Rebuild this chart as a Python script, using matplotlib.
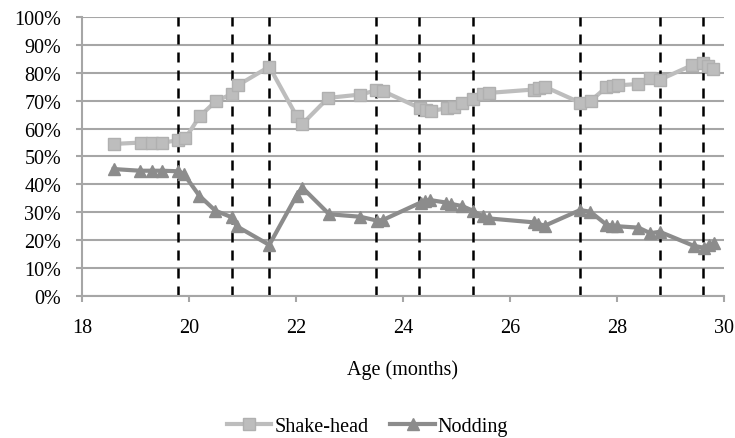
import matplotlib.pyplot as plt
from matplotlib.ticker import PercentFormatter

plt.rcParams['font.family'] = ['Liberation Serif', 'DejaVu Serif']

# shake-head responses
shake_age = [18.6, 19.1, 19.3, 19.5, 19.8, 19.93, 20.2, 20.5, 20.81, 20.91, 21.5,
             22.01, 22.12, 22.6, 23.2, 23.5, 23.63, 24.32, 24.43, 24.52, 24.82,
             24.95, 25.1, 25.3, 25.49, 25.61, 26.44, 26.55, 26.65, 27.31, 27.51,
             27.8, 27.92, 28.02, 28.4, 28.62, 28.8, 29.4, 29.6, 29.7, 29.8]
shake_pct = [54.5, 55.0, 55.0, 55.0, 55.8, 56.5, 64.4, 69.8, 72.5, 75.5, 82.2,
             64.5, 61.7, 71.0, 72.2, 73.7, 73.4, 67.3, 66.5, 66.3, 67.3,
             67.8, 69.2, 70.6, 72.5, 72.8, 74.0, 74.6, 75.0, 69.3, 70.0,
             74.8, 75.2, 75.5, 76.0, 78.2, 77.5, 82.7, 83.6, 82.5, 81.2]

# nodding responses
nod_age = [18.59, 19.08, 19.3, 19.5, 19.8, 19.9, 20.19, 20.49, 20.8, 20.89, 21.5,
           22.01, 22.12, 22.62, 23.2, 23.52, 23.63, 24.33, 24.41, 24.5, 24.8,
           24.9, 25.11, 25.3, 25.49, 25.6, 26.44, 26.53, 26.65, 27.31, 27.5,
           27.8, 27.9, 28.0, 28.4, 28.62, 28.8, 29.43, 29.62, 29.71, 29.81]
nod_pct = [45.5, 44.9, 44.9, 44.9, 44.7, 43.8, 36.0, 30.6, 28.2, 25.0, 18.3,
           36.0, 38.8, 29.3, 28.4, 27.0, 27.3, 33.5, 34.2, 34.4, 33.5,
           33.0, 32.2, 30.6, 28.5, 27.8, 26.4, 25.8, 25.2, 30.8, 30.2,
           25.6, 25.2, 25.0, 24.5, 22.5, 23.0, 18.0, 17.3, 18.3, 19.0]

# dashed reference ages
marks = [19.8, 20.8, 21.5, 23.5, 24.3, 25.3, 27.3, 28.8, 29.6]

fig = plt.figure(figsize=(7.35, 4.39), dpi=100)
ax = fig.add_axes([0.1116, 0.3235, 0.8735, 0.6355])

for m in marks:
    ax.axvline(m, color='black', lw=1.8, ls=(0, (4, 3.2)), zorder=2)

ax.plot(shake_age, shake_pct, color='#bdbdbd', lw=3, marker='s', ms=8,
        markerfacecolor='#bdbdbd', markeredgecolor='#b0b0b0', label='Shake-head', zorder=3)
ax.plot(nod_age, nod_pct, color='#8c8c8c', lw=3, marker='^', ms=8,
        markerfacecolor='#8c8c8c', markeredgecolor='#8c8c8c', label='Nodding', zorder=3)

ax.set_xlim(18, 30)
ax.set_ylim(0, 100)
ax.set_xticks(range(18, 31, 2))
ax.set_yticks(range(0, 101, 10))
ax.yaxis.set_major_formatter(PercentFormatter(decimals=0))
ax.grid(axis='y', color='#a6a6a6', lw=1.5, zorder=1)
for s in ['top', 'right']:
    ax.spines[s].set_visible(False)
for s in ['left', 'bottom']:
    ax.spines[s].set_color('#a6a6a6')
    ax.spines[s].set_linewidth(1.5)
ax.tick_params(colors='#a6a6a6', labelcolor='black', labelsize=14.5, length=4, width=1.5)
ax.tick_params(axis='y', pad=11)
ax.tick_params(axis='x', pad=12)

fig.text(0.548, 1 - 370 / 439, 'Age (months)', ha='center', va='center', fontsize=14.5)

fig.legend(loc='center', bbox_to_anchor=(0.5, 1 - 427 / 439), ncol=2, frameon=False,
           fontsize=14.5, handlelength=2.2, columnspacing=1.1, handletextpad=0.15)

fig.savefig('out.png', dpi=100)
